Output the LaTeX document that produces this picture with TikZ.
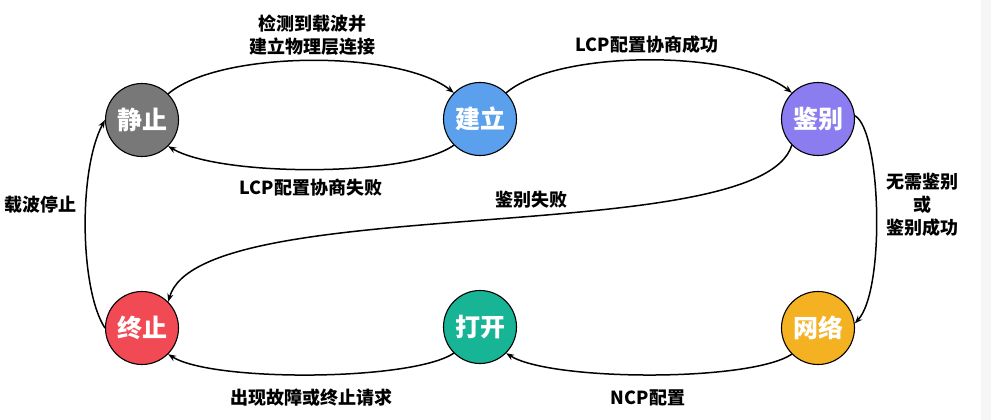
\documentclass[tikz,border=0pt]{standalone}
\usepackage{fontspec}
\setmainfont{Noto Sans CJK SC}
\usetikzlibrary{arrows.meta}
\definecolor{cIdle}{HTML}{787878}
\definecolor{cEst}{HTML}{5AA0EC}
\definecolor{cAuth}{HTML}{8B7CF0}
\definecolor{cTerm}{HTML}{F24A55}
\definecolor{cOpen}{HTML}{17B595}
\definecolor{cNet}{HTML}{F4B223}
\definecolor{cStrip}{HTML}{F6F6F6}
\tikzset{
  state/.style={circle, draw=black, line width=1.1pt, minimum size=73pt, inner sep=0pt,
    text=white, font=\fontsize{25}{28}\selectfont\bfseries},
  trans/.style={line width=1.5pt, -{Stealth[length=8pt,width=6pt]}},
  lbl/.style={font=\fontsize{18}{23}\selectfont\bfseries, align=center, text=black},
}
\begin{document}
\begin{tikzpicture}[x=1pt,y=-1pt]
  \useasboundingbox (0,0) rectangle (991,420);
  \fill[white] (0,0) rectangle (991,420);
  \fill[cStrip] (981,0) rectangle (991,420);

  % states
  \node[state, fill=cIdle] (s) at (142,120) {静止};
  \node[state, fill=cEst]  (b) at (480,119) {建立};
  \node[state, fill=cAuth] (j) at (818,119) {鉴别};
  \node[state, fill=cTerm] (z) at (142,328) {终止};
  \node[state, fill=cOpen] (o) at (480,327) {打开};
  \node[state, fill=cNet]  (n) at (818,328) {网络};

  % transitions
  \draw[trans] (s.45) .. controls +(52,-44) and +(-54,-43) .. (b.135);
  \draw[trans] (b.225) .. controls +(-44,32) and +(52,31) .. (s.315);
  \draw[trans] (b.45) .. controls +(52,-44) and +(-54,-43) .. (j.135);
  \draw[trans] (j.225) .. controls +(-32,105) and +(32,-112) .. (z.45);
  \draw[trans] (j.5) .. controls +(26,14) and +(31,-34) .. (n.7);
  \draw[trans] (n.225) .. controls +(-42,28) and +(44,28) .. (o.315);
  \draw[trans] (o.225) .. controls +(-42,28) and +(44,28) .. (z.315);
  \draw[trans] (z.180) .. controls +(-25,-38) and +(-27,50) .. (s.180);

  % transition labels
  \node[lbl] (l1) at (312,35) {检测到载波并\\建立物理层连接};
  \node[lbl] (l2) at (311,188) {LCP配置协商失败};
  \node[lbl] (l3) at (647,45) {LCP配置协商成功};
  \node[lbl] (l4) at (531,200) {鉴别失败};
  \node[lbl] (l5) at (922,205) {无需鉴别\\或\\鉴别成功};
  \node[lbl] (l6) at (648,398) {NCP配置};
  \node[lbl] (l7) at (311,398) {出现故障或终止请求};
  \node[lbl] (l8) at (41,205) {载波停止};
\end{tikzpicture}
\end{document}
